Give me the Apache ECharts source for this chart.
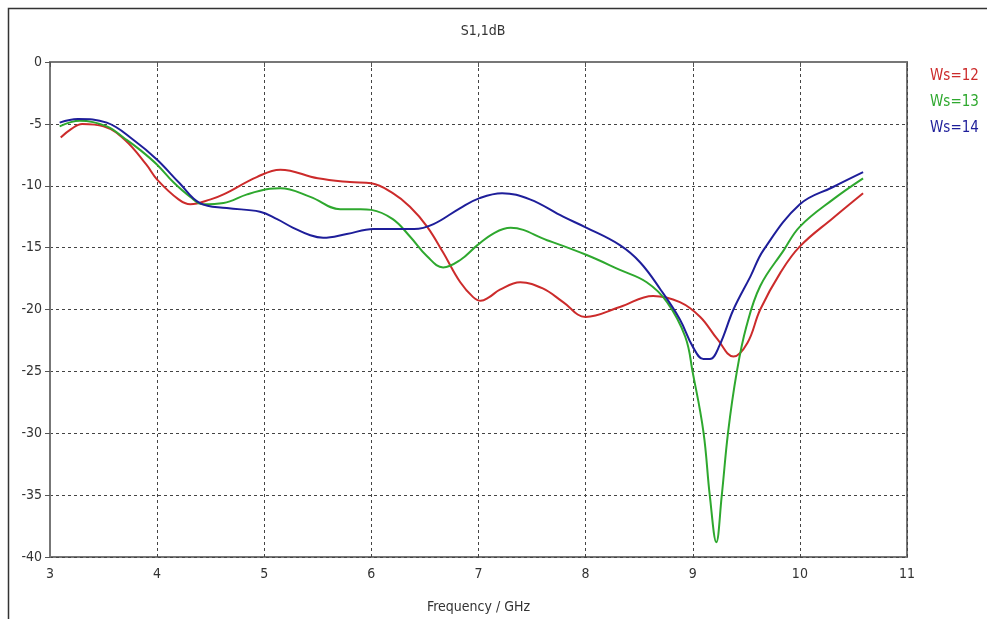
<!DOCTYPE html>
<html>
<head>
<meta charset="utf-8">
<script src="https://cdn.jsdelivr.net/npm/echarts@6/dist/echarts.min.js"></script>
<style>
  html, body { margin: 0; padding: 0; background: #fff; }
  #chart { width: 987px; height: 619px; }
</style>
</head>
<body>
<div id="chart"></div>
<script>
// S1,1 (dB) vs frequency
var legendNames = ['Ws=12', 'Ws=13', 'Ws=14']
var xTicks = [3, 4, 5, 6, 7, 8, 9, 10, 11]
var yTicks = [0, -5, -10, -15, -20, -25, -30, -35, -40]

var freq12 = [3.1, 3.2, 3.3, 3.5, 3.7, 3.9, 4.0, 4.2, 4.31, 4.5, 4.62, 4.93, 5.15, 5.5, 5.8, 6.0, 6.2, 6.36, 6.52, 6.67, 6.83, 6.95, 7.02, 7.1, 7.2, 7.39, 7.6, 7.79, 8.0, 8.32, 8.63, 8.88, 9.07, 9.23, 9.38, 9.51, 9.63, 9.82, 10.0, 10.31, 10.59]
var db12 = [-6.1, -5.4, -5.0, -5.2, -6.3, -8.3, -9.5, -11.1, -11.5, -11.1, -10.7, -9.3, -8.7, -9.4, -9.7, -9.8, -10.6, -11.7, -13.3, -15.4, -17.8, -19.0, -19.3, -19.0, -18.4, -17.8, -18.3, -19.4, -20.6, -19.8, -18.9, -19.4, -20.6, -22.4, -23.8, -22.7, -20.0, -17.0, -14.9, -12.6, -10.6]

var freq13 = [3.09, 3.28, 3.53, 3.7, 3.84, 4.0, 4.15, 4.31, 4.43, 4.62, 4.84, 5.05, 5.15, 5.43, 5.71, 5.9, 6.0, 6.2, 6.36, 6.52, 6.67, 6.83, 6.99, 7.15, 7.3, 7.64, 8.01, 8.32, 8.57, 8.76, 8.93, 9.0, 9.1, 9.16, 9.22, 9.27, 9.33, 9.41, 9.5, 9.63, 9.85, 10.0, 10.31, 10.59]
var db13 = [-5.2, -4.75, -5.2, -6.2, -7.1, -8.3, -9.7, -10.9, -11.5, -11.4, -10.7, -10.25, -10.2, -10.9, -11.9, -11.9, -11.95, -12.7, -14.1, -15.7, -16.6, -16.0, -14.8, -13.8, -13.4, -14.4, -15.6, -16.8, -17.8, -19.4, -22.2, -25.1, -29.9, -35.1, -38.8, -35.1, -29.9, -25.1, -21.4, -18.1, -15.2, -13.3, -11.1, -9.4]

var freq14 = [3.09, 3.26, 3.53, 3.78, 4.0, 4.21, 4.4, 4.65, 4.96, 5.12, 5.27, 5.43, 5.55, 5.77, 6.02, 6.4, 6.58, 6.83, 7.01, 7.22, 7.48, 7.79, 8.01, 8.32, 8.51, 8.7, 8.88, 9.0, 9.1, 9.16, 9.25, 9.38, 9.54, 9.66, 10.0, 10.31, 10.59]
var db14 = [-4.9, -4.6, -4.9, -6.3, -7.9, -9.8, -11.4, -11.8, -12.1, -12.7, -13.4, -14.0, -14.2, -13.9, -13.5, -13.5, -13.1, -11.8, -11.0, -10.6, -11.1, -12.5, -13.4, -14.8, -16.2, -18.4, -20.8, -23.0, -24.0, -24.0, -22.9, -20.0, -17.3, -15.2, -11.5, -10.1, -8.9]

var colors = ['#cc2b2b', '#2ea82e', '#1e1e9a']

function pairs(xs, ys) {
  return xs.map(function (x, i) { return [x, ys[i]] })
}

var myChart = echarts.init(document.getElementById('chart'))

var fontFam = '"DejaVu Sans Condensed", "Liberation Sans Narrow", sans-serif'

var option = {
  backgroundColor: '#fff',
  animation: false,
  title: {
    text: 'S1,1dB',
    left: 478,
    textAlign: 'center',
    top: 19,
    textStyle: { fontSize: 14, fontWeight: 'normal', color: '#333', fontFamily: fontFam }
  },
  legend: {
    orient: 'vertical',
    left: 920,
    top: 64,
    icon: 'none',
    itemWidth: 0,
    itemGap: 11,
    textStyle: { fontSize: 15, fontFamily: fontFam, padding: 0 },
    data: legendNames.map(function (n, i) {
      return { name: n, textStyle: { color: colors[i] } }
    })
  },
  graphic: [
    {
      // 外框
      type: 'rect',
      left: 6, top: 6,
      shape: { width: 1000, height: 640 },
      style: { fill: 'none', stroke: '#333', lineWidth: 1.5 },
      silent: true
    }
  ],
  grid: {
    left: 50,
    right: 80,
    top: 62,
    bottom: 61,
    show: true,
    borderColor: '#777',
    borderWidth: 2
  },
  xAxis: {
    type: 'value',
    min: xTicks[0],
    max: xTicks[xTicks.length - 1],
    interval: 1,
    name: 'Frequency / GHz',
    nameLocation: 'middle',
    nameGap: 43,
    nameTextStyle: { fontSize: 14, color: '#333', fontFamily: fontFam },
    axisLine: { lineStyle: { color: '#777', width: 2 } },
    axisTick: { show: true, length: 5, lineStyle: { color: '#555' } },
    axisLabel: { fontSize: 14, color: '#333', margin: 10, fontFamily: fontFam },
    splitLine: { show: true, lineStyle: { color: '#444', type: [3, 3], width: 1 } }
  },
  yAxis: {
    type: 'value',
    min: yTicks[yTicks.length - 1],
    max: yTicks[0],
    interval: 5,
    axisLine: { show: true, lineStyle: { color: '#777', width: 2 } },
    axisTick: { show: true, length: 5, lineStyle: { color: '#555' } },
    axisLabel: { fontSize: 14, color: '#333', margin: 8, fontFamily: fontFam },
    splitLine: { show: true, lineStyle: { color: '#444', type: [3, 3], width: 1 } }
  },
  series: [
    { name: 'Ws=12', type: 'line', smooth: 0.4, showSymbol: false, lineStyle: { width: 2, color: colors[0] }, itemStyle: { color: colors[0] }, data: pairs(freq12, db12) },
    { name: 'Ws=13', type: 'line', smooth: 0.4, showSymbol: false, lineStyle: { width: 2, color: colors[1] }, itemStyle: { color: colors[1] }, data: pairs(freq13, db13) },
    { name: 'Ws=14', type: 'line', smooth: 0.4, showSymbol: false, lineStyle: { width: 2, color: colors[2] }, itemStyle: { color: colors[2] }, data: pairs(freq14, db14) }
  ]
}

myChart.setOption(option)
</script>
</body>
</html>
